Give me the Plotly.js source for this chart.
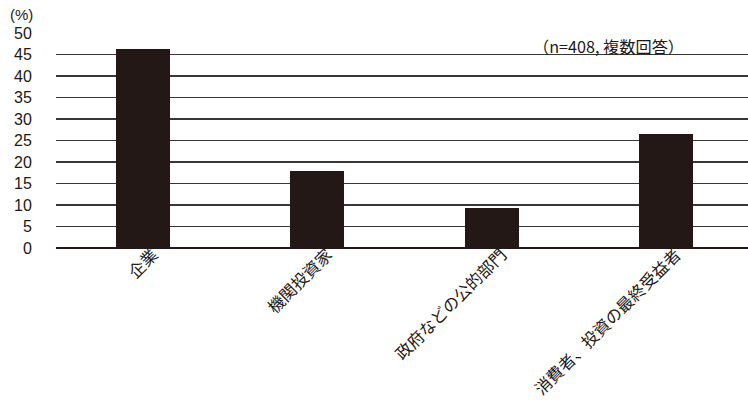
<!DOCTYPE html>
<html>
<head>
<meta charset="utf-8">
<script src="https://cdn.plot.ly/plotly-3.0.1.min.js"></script>
<style>html,body{margin:0;padding:0;background:#fff;}#chart{width:748px;height:406px;}</style>
</head>
<body>
<div id="chart"></div>
<script>
var categories = ["企業", "機関投資家", "政府などの公的部門", "消費者、投資の最終受益者"];
var values = [46.3, 17.8, 9.2, 26.6];
var yTicks = [0, 5, 10, 15, 20, 25, 30, 35, 40, 45, 50];
var unitLabel = "(%)";
var noteLabel = "（n=408, 複数回答）";

var ink = "#231815";
var trace = {
  type: "bar",
  x: categories.map(function(_, i){ return i; }),
  y: values,
  width: 0.31,
  marker: {color: ink, line: {width: 0}},
  hoverinfo: "skip"
};

var layout = {
  width: 748,
  height: 406,
  margin: {l: 55.5, r: 0, t: 33.3, b: 158.3, pad: 0},
  paper_bgcolor: "#fff",
  plot_bgcolor: "#fff",
  showlegend: false,
  bargap: 0,
  font: {family: "'Liberation Sans', 'Noto Sans CJK JP', sans-serif", color: ink},
  xaxis: {
    range: [-0.5, 3.47],
    tickmode: "array",
    tickvals: categories.map(function(_, i){ return i; }),
    ticktext: categories,
    tickangle: -45,
    tickfont: {family: "'Noto Sans CJK JP', sans-serif", size: 16.5, color: ink},
    showgrid: false,
    zeroline: false,
    showline: false,
    ticks: "",
    ticklabelshift: 10,
    ticklabelstandoff: -7,
    fixedrange: true
  },
  yaxis: {
    range: [0, 50],
    tickmode: "array",
    tickvals: yTicks,
    ticktext: yTicks.map(String),
    tickfont: {family: "'Liberation Sans', Arial, sans-serif", size: 16, color: ink},
    showgrid: true,
    gridcolor: "#3a3634",
    gridwidth: 1.3,
    zeroline: true,
    zerolinecolor: ink,
    zerolinewidth: 2.5,
    showline: false,
    ticks: "outside",
    ticklen: 20,
    tickcolor: "rgba(0,0,0,0)",
    fixedrange: true
  },
  annotations: [
    {
      text: unitLabel,
      xref: "paper", yref: "paper",
      x: -0.03, y: 1.085,
      xanchor: "right", yanchor: "middle",
      showarrow: false,
      font: {family: "'Liberation Sans', sans-serif", size: 15, color: ink}
    },
    {
      text: noteLabel,
      xref: "paper", yref: "y",
      x: 0.686, y: 46.9,
      xanchor: "left", yanchor: "middle",
      showarrow: false,
      font: {family: "'Noto Sans CJK JP', sans-serif", size: 16.2, color: ink}
    }
  ]
};

Plotly.newPlot("chart", [trace], layout, {displayModeBar: false, staticPlot: true});
</script>
</body>
</html>
